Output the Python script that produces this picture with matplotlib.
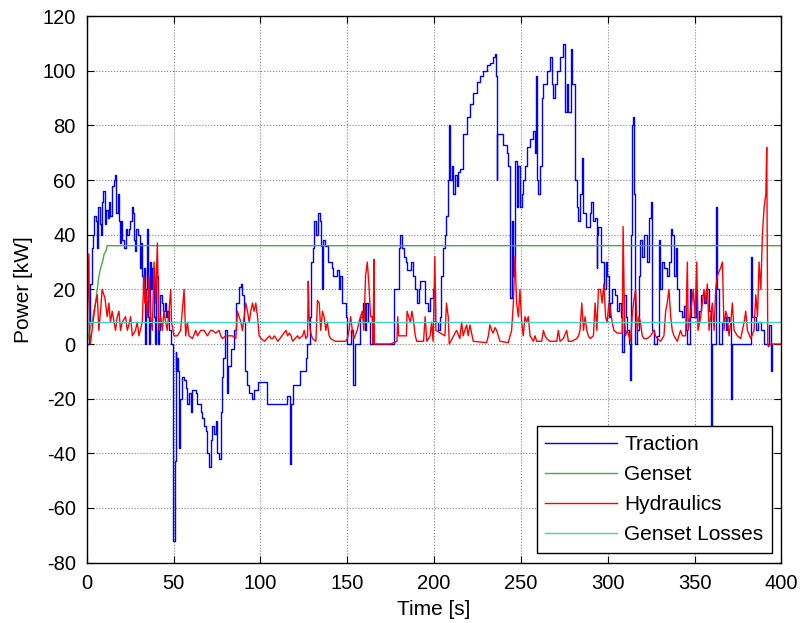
import numpy as np
import matplotlib.pyplot as plt

plt.rcParams['font.family'] = ['Liberation Sans', 'DejaVu Sans']
plt.rcParams['axes.unicode_minus'] = False

# TRACTION POWER [kW]
trac_t = [0, 1, 2.1, 2.8, 3.5, 4.1, 5, 5.8, 6.5, 7.3, 7.9, 8.8, 9.5, 10.4, 11.2, 12.3, 13, 13.6,
          14.6, 15.6, 16, 16.9, 18, 18.5, 19, 19.8, 20.4, 21.3, 22.3, 23.3, 24.2, 25, 25.8, 26.3,
          27, 27.7, 28.5, 29.6, 30.4, 31, 31.5, 32.3, 32.9, 33.5, 33.9, 34.4, 35.2, 35.8, 36.2,
          37, 37.7, 38.5, 39.2, 40, 40.8, 41.5, 42.3, 43.1, 43.8, 45, 45.8, 46.3, 47.3, 48.3,
          49.6, 49.8, 50.6, 51.1, 51.5, 52.1, 52.7, 53, 53.6, 54.6, 55.9, 57, 57.9, 58.8, 59.8,
          60.8, 62.7, 63.7, 64.6, 65.5, 66.5, 67.5, 68.5, 69.4, 70.4, 71.3, 72.3, 73.3, 74.2,
          75.2, 76.2, 77.1, 77.7, 78.5, 79.5, 80.5, 81.5, 83, 84.5, 86, 87.5, 88.5, 89.5, 90.5,
          91, 92, 93.5, 95, 96.5, 98.5, 104, 115.5, 116.8, 117.5, 118.5, 121, 123, 126, 127,
          128.6, 129, 130, 131, 132, 133, 134, 135, 135.5, 136, 137, 139, 141, 142, 144, 145,
          146, 147, 149, 150, 152, 153.5, 154.5, 157.5, 159, 160, 161, 162, 163, 176.7, 177,
          179, 180, 180.5, 181.5, 182.5, 183.5, 184.5, 186.5, 188, 189, 190, 191, 192, 194.6,
          196.5, 197.5, 199.4, 200.4, 202.3, 203.3, 204.2, 205.2, 206.2, 207.1, 208, 208.6,
          209, 210, 211, 212, 213, 214, 214.8, 216.7, 218.7, 220.6, 222.5, 224.4, 226.3, 228.3,
          230.2, 232, 234, 235, 235.5, 236, 236.4, 238.8, 239.8, 241.7, 242.7, 243.6, 244.6,
          245.6, 246.5, 247.5, 248.5, 249.4, 250.4, 251.3, 252.3, 253.3, 255.2, 257.1, 258.1,
          258.7, 259, 260, 261, 262, 262.9, 264.8, 266.7, 267.7, 268.7, 269.6, 270.6, 272.5,
          274.4, 275.4, 276.3, 277.3, 278.7, 279.6, 281, 282, 283, 284, 285, 285.8, 287.7,
          289.6, 290.5, 291.7, 292.9, 293.5, 294, 294.6, 295.8, 297.7, 298.7, 299.6, 300.6,
          301.5, 302.5, 304.4, 305.4, 306.3, 307.3, 308.3, 309.2, 310.2, 311.2, 312.1, 312.7,
          313.1, 313.5, 314, 314.6, 315, 315.6, 316.9, 317.9, 318.8, 319.8, 320.8, 322.7,
          323.7, 324.6, 325.6, 326.5, 328.5, 329.4, 330, 331.3, 332.3, 334.2, 335.2, 336.2,
          337.1, 338, 339, 340, 341, 342.9, 343.8, 344.8, 345.8, 347.1, 347.7, 350.6, 351.5,
          352.5, 353.5, 355.4, 356.3, 358.3, 359.2, 359.6, 360, 362.1, 363, 364, 366, 366.9,
          367.9, 368.8, 369.8, 370.8, 371.2, 371.7, 381.9, 382.3, 383.3, 385.2, 386.2, 388.1,
          390, 392.9, 393.8, 394.2, 394.6]
trac_p = [0, 8, 22, 35, 40, 47, 45, 35, 50, 44, 40, 52, 56, 44, 49, 46, 52, 47,
          58, 60, 62, 48, 55, 45, 37, 45, 38, 35, 42, 40, 42, 45, 50, 48,
          38, 34, 42, 40, 28, 37, 25, 20, 28, 0, 20, 42, 10, 0, 30,
          20, 28, 10, 0, 25, 0, 5, 18, 15, 12, 15, 10, 12, 5, 0,
          0, -72, -43, -3, -10, -5, -10, -38, -20, -12, -13, -16, -22, -18, -25,
          -17, -18, -22, -22, -25, -27, -30, -32, -40, -45, -35, -30, -33, -28,
          -40, -42, -25, -12, -5, 5, -18, -8, -2, 5, 15, 21, 22, 18, 8,
          -10, -15, -18, -20, -17, -14, -22, -19, -44, -22, -15, -15, -10, -5, 0,
          10, 30, 35, 45, 40, 48, 45, 36, 20, 38, 36, 30, 28, 25, 27, 20,
          25, 15, 10, 0, 5, -15, 0, 10, 15, 5, 15, 8, 0, 0, 20,
          20, 35, 40, 35, 32, 30, 27, 30, 25, 20, 15, 20, 23, 15,
          12, 17, 20, 8, 5, 10, 25, 35, 40, 47, 60, 80,
          60, 65, 55, 62, 58, 63, 64, 77, 83, 88, 92, 96, 98, 100,
          102, 103, 105, 106, 98, 60, 77, 77, 73, 70, 65, 17, 45,
          25, 67, 50, 65, 50, 55, 60, 65, 72, 75, 78, 70,
          98, 60, 55, 65, 90, 95, 100, 105, 95, 90, 95, 100, 105,
          110, 85, 95, 85, 108, 95, 60, 50, 45, 55, 68, 48, 43,
          48, 52, 45, 46, 28, 40, 43, 30, 20, 30, 25, 10,
          15, 20, 18, 12, 15, 10, -3, 18, 10, 5, 0, -13,
          0, 40, 80, 83, 55, 0, 5, 25, 38, 32, 40, 30,
          46, 52, 5, 0, 3, 38, 20, 30, 28, 25, 30, 42,
          40, 25, 35, 20, 12, 10, 14, 5, 0, 20, 10, 20, 8,
          12, 18, 15, 20, 12, 0, -35, 0, 50, 20, 0, 8, 10,
          5, 10, 8, 0, -20, 0, 0, 32, 10, 5, 8, 5,
          0, 7, 0, -10, 0]

# HYDRAULICS POWER [kW]
hyd_t = [0, 0.1, 1.2, 1.5, 2, 4, 5, 6, 6.9, 7.9, 8.8, 9.8, 10.4, 11.7, 12.7, 13.6, 14.6, 16.5,
         17.5, 18.5, 19.4, 20.4, 22.3, 23.3, 24.2, 25.2, 26.2, 28, 29, 30, 31.9, 32.9, 33.5,
         33.9, 34.8, 35.8, 36.7, 37.7, 38.7, 39.6, 40.6, 41.5, 42.5, 43.5, 44.4, 45.4, 46.3,
         47.3, 48.3, 48.8, 50.2, 52.1, 54, 56, 56.9, 57.9, 58.8, 60.8, 62.7, 63.7, 65.6, 67.5,
         69.4, 71.3, 72.3, 74.2, 76.2, 77.1, 78.1, 80, 81, 82.9, 83.8, 85.8, 86.7, 87.7, 88.7,
         89.6, 90.6, 91.5, 92.5, 93.5, 94.4, 95.4, 96.3, 97.3, 98.3, 99.2, 100.4, 102.3, 105.2,
         106.1, 107.1, 108, 110, 114.7, 115.6, 116.6, 117.6, 118.5, 121.4, 122.3, 124.2, 125.2,
         126.1, 127.1, 127.5, 128, 128.6, 129.9, 131.9, 132.8, 133.8, 134.7, 135.7, 136.6,
         137.6, 138.5, 139.5, 140.5, 143, 149, 150, 151, 151.9, 152.9, 153.8, 155.7, 156.7,
         157.6, 158.6, 159.5, 160.5, 161.5, 162.4, 163.4, 164.3, 164.9, 165.3, 165.6, 174.8,
         178.6, 179, 179.6, 184, 184.4, 185.3, 186.3, 187.2, 188.2, 189.1, 190, 193.9, 194.8,
         195.8, 197.7, 198.5, 199.4, 200.4, 201, 206.2, 207.1, 208.1, 208.7, 212.9, 214.8,
         215.8, 216.7, 217.7, 218.7, 219.6, 220.6, 222.5, 230.2, 231.2, 232.1, 233.1, 234, 235,
         236, 236.9, 237.9, 242.7, 243.7, 244.6, 245.6, 246.5, 247.5, 248.5, 249.4, 250.4,
         251.3, 252.3, 253.3, 254.2, 255.2, 256.2, 257.1, 258.1, 259, 261.9, 262.9, 263.8,
         264.8, 266.7, 270.6, 271.5, 272.5, 274.4, 276.3, 277.3, 279.2, 282.1, 283.1, 284, 285,
         286, 286.9, 287.9, 288.8, 289.8, 291.7, 292.7, 293.7, 294.6, 295.8, 296.7, 297.7,
         298.7, 299.6, 300.6, 301.5, 302.5, 303.5, 305.4, 308.3, 308.8, 309.6, 310.2, 311.2,
         312.1, 313.1, 314, 315, 316, 316.9, 317.9, 318.8, 319.8, 320.8, 322.7, 324.6, 326.5,
         327.5, 328.5, 330.4, 332.3, 333.3, 334.2, 335.2, 336.2, 337.1, 338.1, 340, 341.9,
         342.9, 344.8, 345.8, 346.3, 347.3, 348.3, 349.2, 350.2, 351.2, 351.9, 353.5, 354.4,
         355.4, 356.3, 357.3, 358.3, 359.2, 360.2, 361.2, 362.1, 363.1, 365, 366, 366.9, 367.9,
         368.8, 369.8, 370.8, 371.7, 372.7, 374.6, 376.5, 378.5, 379.4, 380.4, 382.3, 384.2,
         385.2, 386.2, 387.1, 388.1, 389, 390, 391, 391.5, 392.1, 392.5, 393.8, 400]
hyd_p = [-28, 8, 33, 5, 0, 10, 15, 18, 5, 12, 20, 18, 17, 10, 15, 8, 12, 5,
         10, 12, 5, 8, 10, 5, 7, 10, 3, 5, 8, 3, 8, 25, 15,
         20, 10, 25, 10, 5, 30, 15, 37, 5, 10, 5, 12, 8, 5,
         12, 20, 8, 3, 3, 5, 20, 3, 8, 3, 2, 5, 3, 5, 5,
         3, 5, 5, 4, 5, 3, 2, 3, 3, 3, 3, 2, 12, 10, 8,
         5, 10, 15, 12, 8, 12, 15, 12, 15, 10, 3, 2, 1, 3,
         2, 2, 3, 1, 5, 3, 4, 3, 1, 3, 2, 3, 5,
         2, 3, 23, 10, 5, 2, 1, 16, 15, 5, 12, 10,
         5, 8, 3, 2, 1, 1, 2, 5, 10, 5, 2, 5, 8,
         10, 12, 5, 25, 30, 22, 10, 10, 0, 31, 0, 0,
         1, 10, 3, 3, 12, 10, 8, 12, 8, 3, 1, 1, 10,
         1, 3, 8, 1, 32, 5, 3, 15, 10, 0, 5, 2,
         8, 3, 5, 7, 3, 7, 1, 0.5, 3, 7, 5, 4, 6,
         5, 3, 1, 0.5, 3, 5, 15, 32, 15, 10, 20, 8,
         3, 10, 8, 10, 3, 2, 1, 3, 1, 1, 5, 3,
         2, 1, 1, 5, 1, 2, 5, 1, 1, 2, 3, 5, 15,
         5, 10, 5, 3, 2, 3, 15, 5, 20, 20, 15, 22,
         10, 8, 15, 12, 8, 5, 4, 4, 43, 10, 3, 5,
         3, 1, 10, 16, 20, 5, 10, 8, 3, 2, 2, 3, 5,
         3, 2, 1, 3, 12, 15, 20, 10, 5, 3, 1, 5,
         3, 3, 30, 5, 10, 15, 20, 10, 30, 5, 10, 15,
         20, 15, 22, 5, 10, 15, 5, 20, 25, 28, 30, 5, 12,
         10, 3, 8, 15, 5, 3, 2, 8, 12, 5, 2, 5,
         18, 10, 30, 20, 40, 50, 55, 72, 0, -1, 0, 0]

# GENSET OUTPUT AND LOSSES [kW]
gen_t = [0, 1, 2, 3, 4, 5, 6, 7, 8, 9, 10, 11, 11.7, 400]
gen_p = [0, 3, 6, 8, 12, 15, 20, 25, 28, 30, 33, 34, 36, 36]
loss_t = [0, 400]
loss_p = [8, 8]

fig = plt.figure(figsize=(8.04, 6.23), dpi=100)
ax = fig.add_axes([0.108, 0.097, 0.864, 0.877])

ax.plot(trac_t, trac_p, color='#0000ff', lw=1.0, drawstyle='steps-post', label='Traction')
ax.plot(gen_t, gen_p, color='#4ca64c', lw=1.0, label='Genset')
ax.plot(hyd_t, hyd_p, color='#ff0000', lw=1.0, label='Hydraulics')
ax.plot(loss_t, loss_p, color='#40d0d0', lw=1.0, label='Genset Losses')

ax.set_xlim(0, 400)
ax.set_ylim(-80, 120)
ax.set_xticks(np.arange(0, 401, 50))
ax.set_yticks(np.arange(-80, 121, 20))
ax.grid(True, color='#808080', linestyle=':', linewidth=0.8)
ax.tick_params(direction='in', top=True, right=True, length=5, labelsize=14.5, pad=8)
for s in ax.spines.values():
    s.set_linewidth(1.0)

ax.set_xlabel('Time [s]', fontsize=15, labelpad=5)
ax.set_ylabel('Power [kW]', fontsize=15, labelpad=7)

leg = ax.legend(loc='lower right', fontsize=15, fancybox=False, edgecolor='black',
                framealpha=1, handlelength=3.45, handletextpad=0.32, labelspacing=0.53,
                borderpad=0.42, borderaxespad=0.46)
leg.get_frame().set_linewidth(1.0)

plt.savefig('out.png', dpi=100)
